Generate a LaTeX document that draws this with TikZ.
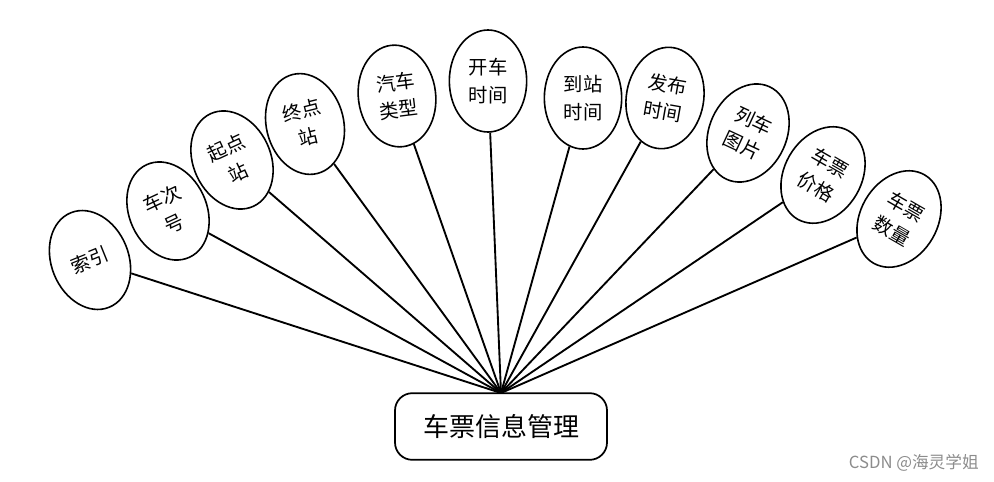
\documentclass[tikz,border=0pt]{standalone}
\usepackage{fontspec}
\newfontfamily\cjk{Noto Sans CJK SC}
\usetikzlibrary{shapes.geometric}
\begin{document}
\begin{tikzpicture}[x=0.75pt,y=0.75pt,
  attr/.style={ellipse,draw,line width=1.2pt,minimum width=58pt,minimum height=76.5pt,inner sep=0pt,
    align=center,font=\cjk\fontsize{14.5}{20.5}\selectfont},
  main/.style={draw,line width=1.3pt,rounded corners=13pt,minimum width=159pt,minimum height=50pt,
    font=\cjk\fontsize{19.5}{22}\selectfont},
  link/.style={line width=1.4pt}]
\useasboundingbox (0,0) rectangle (994,-481);
\node[main] (m) at (501,-426.5) {车票信息管理};
\coordinate (hub) at (501,-393);
\node[attr,rotate=22] (a1) at (90,-260) {索引};
\node[attr,rotate=25] (a2) at (168,-211) {车次\\号};
\node[attr,rotate=25] (a3) at (232,-160) {起点\\站};
\node[attr,rotate=14] (a4) at (305,-124) {终点\\站};
\node[attr,rotate=7] (a5) at (397,-96) {汽车\\类型};
\node[attr] (a6) at (488,-81) {开车\\时间};
\node[attr] (a7) at (583,-98) {到站\\时间};
\node[attr,rotate=-10] (a8) at (665,-98) {发布\\时间};
\node[attr,rotate=-25] (a9) at (748,-133) {列车\\图片};
\node[attr,rotate=-30] (a10) at (823,-175) {车票\\价格};
\node[attr,rotate=-30] (a11) at (899,-219) {车票\\数量};
\foreach \i in {1,...,11} \draw[link] (hub) -- (a\i);
\node[font=\cjk\fontsize{12.5}{14}\selectfont,text=black!45,anchor=east,inner sep=0pt] (wm) at (979,-463) {CSDN @海灵学姐};
\end{tikzpicture}
\end{document}
